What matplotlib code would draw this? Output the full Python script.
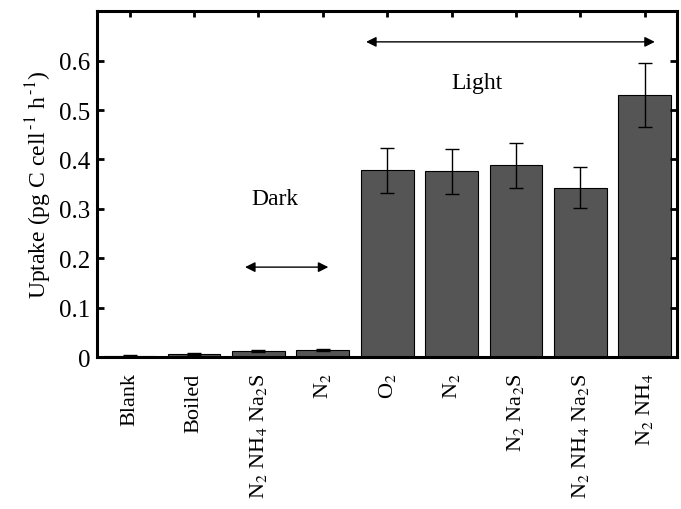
import numpy as np
import matplotlib
matplotlib.use("Agg")
import matplotlib.pyplot as plt

plt.rcParams["font.family"] = ["Liberation Serif", "DejaVu Serif"]
plt.rcParams["mathtext.fontset"] = "stix"

labels = ["Blank", "Boiled", r"N$_2$ NH$_4$ Na$_2$S", r"N$_2$",
          r"O$_2$", r"N$_2$", r"N$_2$ Na$_2$S", r"N$_2$ NH$_4$ Na$_2$S", r"N$_2$ NH$_4$"]
uptake = [0.003, 0.006, 0.013, 0.015, 0.378, 0.376, 0.388, 0.343, 0.530]
errors = [0.002, 0.002, 0.002, 0.002, 0.046, 0.045, 0.045, 0.042, 0.065]

fig, ax = plt.subplots(figsize=(6.81, 5.10), dpi=100)
fig.subplots_adjust(left=0.143, right=0.994, top=0.976, bottom=0.298)

x = np.arange(len(labels))
ax.bar(x, uptake, width=0.82, color="#555555", edgecolor="black", linewidth=0.8)
ax.errorbar(x, uptake, yerr=errors, fmt="none", ecolor="black",
            elinewidth=1, capsize=5, capthick=1)

ax.set_xlim(-0.5, len(labels) - 0.5)
ax.set_ylim(0, 0.7)
ax.set_yticks([0, 0.1, 0.2, 0.3, 0.4, 0.5, 0.6])
ax.set_yticklabels(["0", "0.1", "0.2", "0.3", "0.4", "0.5", "0.6"], fontsize=18)
ax.set_xticks(x)
ax.set_xticklabels(labels, rotation=90, fontsize=16, va="top", ha="center")
ax.tick_params(axis="y", direction="in", right=True, length=5, width=2, pad=5)
ax.tick_params(axis="x", direction="in", top=True, bottom=False, length=4, width=2, pad=11)
for s in ax.spines.values():
    s.set_linewidth(2.2)

ax.set_ylabel(r"Uptake (pg C cell$^{\,\text{-}1}$ h$^{\,\text{-}1}$)", fontsize=17, labelpad=4)

ax.annotate("", xy=(3.63, 0.638), xytext=(8.2, 0.638),
            arrowprops=dict(arrowstyle="<|-|>", color="black", lw=1, mutation_scale=15))
ax.text(5.4, 0.556, "Light", fontsize=17, ha="center", va="center")
ax.annotate("", xy=(1.75, 0.182), xytext=(3.13, 0.182),
            arrowprops=dict(arrowstyle="<|-|>", color="black", lw=1, mutation_scale=15))
ax.text(2.26, 0.32, "Dark", fontsize=17, ha="center", va="center")

fig.savefig("out.png", dpi=100)
